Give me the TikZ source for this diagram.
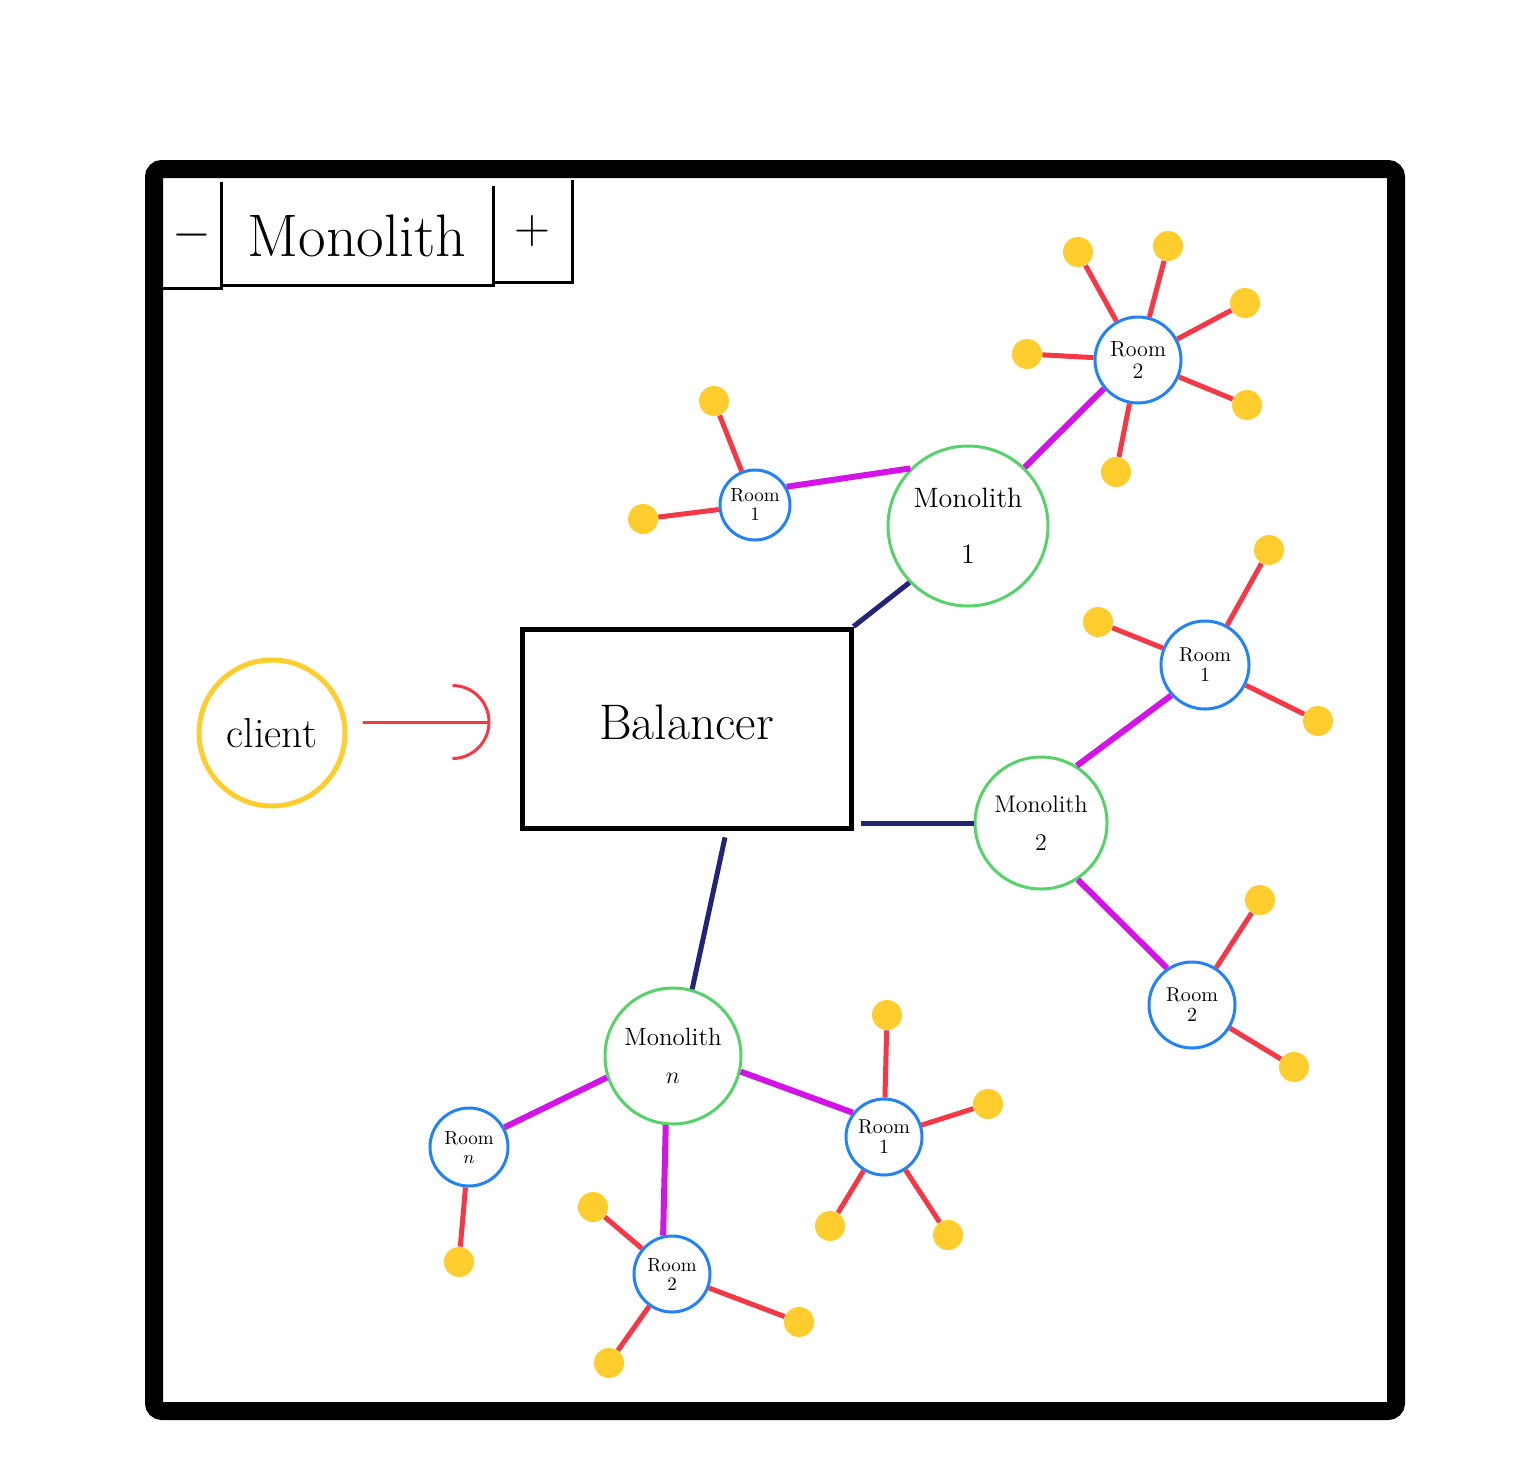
\documentclass[tikz,border=0pt]{standalone}
\usetikzlibrary{arrows.meta}
\definecolor{dotyellow}{RGB}{255,206,46}
\definecolor{redline}{RGB}{245,55,70}
\definecolor{magline}{RGB}{210,20,230}
\definecolor{navyline}{RGB}{35,35,120}
\definecolor{roomblue}{RGB}{35,130,245}
\definecolor{monogreen}{RGB}{85,210,105}

\begin{document}
\begin{tikzpicture}[x=0.5pt,y=-0.5pt,>=Latex,
 mono/.style={draw=monogreen,line width=1.5pt,circle,align=center,inner sep=0pt},
 room/.style={draw=roomblue,line width=1.5pt,circle,align=center,inner sep=0pt,font=\fontsize{10}{10}\selectfont},
 user/.style={circle,fill=dotyellow,minimum size=15pt,inner sep=0pt},
 trunk/.style={draw=navyline,line width=2.5pt},
 branch/.style={draw=magline,line width=3pt},
 spoke/.style={draw=redline,line width=2.5pt},
 cell/.style={line width=1.5pt}]
\useasboundingbox (0,0) rectangle (1536,1462);
\draw[line width=9pt,rounded corners=4pt] (154,169) rectangle (1396,1411);

% title bar
\node[minimum width=29pt,minimum height=53pt,font=\fontsize{30}{30}\selectfont] (minus) at (192,235) {$-$};
\node[minimum width=136pt,minimum height=49.5pt,font=\fontsize{30}{30}\selectfont] (title) at (357,235.5) {Monolith};
\node[minimum width=39.5pt,minimum height=51pt,font=\fontsize{30}{30}\selectfont] (plus) at (532.5,231) {$+$};
\draw[cell] (minus.north east) -- (minus.south east) -- (minus.south west);
\draw[cell] (title.north east) -- (title.south east) -- (title.south west);
\draw[cell] (plus.north east) -- (plus.south east) -- (plus.south west);

% client and balancer
\node[circle,draw=dotyellow,line width=2.5pt,minimum size=73pt,inner sep=0pt,font=\fontsize{21}{21}\selectfont] (client) at (272,733) {client};
\node[draw,line width=2.5pt,minimum width=164.5pt,minimum height=99.5pt,font=\fontsize{25}{25}\selectfont] (bal) at (686.5,728.5) {\raisebox{6.5pt}{Balancer}};
\draw[draw=redline,line width=1.5pt,shorten <=7.5pt,shorten >=14.5pt,-{Arc Barb[length=19pt,width=38pt]}]
 ([yshift=5.5pt]client.east) -- ([yshift=3.25pt]bal.west);

% monoliths
\node[mono,minimum size=80pt,font=\fontsize{14}{16}\selectfont] (m1) at (968,526) {Monolith\\[12pt]1};
\node[mono,minimum size=66pt,font=\fontsize{12}{14}\selectfont] (m2) at (1041,823) {Monolith\\[5pt]2};
\node[mono,minimum size=68pt,font=\fontsize{12.5}{14}\selectfont] (mn) at (673,1056) {Monolith\\[5pt]$n$};
\draw[trunk] (bal.north east) -- (m1.224);
\draw[trunk,shorten <=3.5pt] (bal.east |- m2.west) -- (m2.west);
\draw[trunk,shorten <=3.5pt] ([xshift=20pt]bal.south) -- (mn.74);

% rooms
\node[room,minimum size=35pt,font=\fontsize{9.5}{9.5}\selectfont] (m1r1) at (755,505) {Room\\1};
\node[room,minimum size=43pt,font=\fontsize{11}{11}\selectfont] (m1r2) at (1138,360) {Room\\2};
\node[room,minimum size=44pt] (m2r1) at (1205,665) {Room\\1};
\node[room,minimum size=43pt] (m2r2) at (1192,1005) {Room\\2};
\node[room,minimum size=39pt,font=\fontsize{9.5}{9.5}\selectfont] (mnrn) at (469,1147) {Room\\$n$};
\node[room,minimum size=38pt,font=\fontsize{9.5}{9.5}\selectfont] (mnr2) at (672,1274) {Room\\2};
\node[room,minimum size=38pt] (mnr1) at (884,1137) {Room\\1};
\draw[branch] (m1r1.30) -- (m1.135);
\draw[branch] (m1.46) -- (m1r2.220);
\draw[branch] (m2.58) -- (m2r1.222);
\draw[branch] (m2.303) -- (m2r2.124);
\draw[branch] (mn.198) -- (mnrn.29);
\draw[branch] (mn.264) -- (mnr2.103);
\draw[branch] (mn.347) -- (mnr1.142);

% users
\node[user] (m1r1a) at (714,401) {};
\node[user] (m1r1b) at (643,519) {};
\node[user] (m1r2a) at (1078,252) {};
\node[user] (m1r2b) at (1168,246) {};
\node[user] (m1r2c) at (1245,303) {};
\node[user] (m1r2d) at (1027,354) {};
\node[user] (m1r2e) at (1247,405) {};
\node[user] (m1r2f) at (1116,472) {};
\node[user] (m2r1a) at (1269,550) {};
\node[user] (m2r1b) at (1098,622) {};
\node[user] (m2r1c) at (1318,721) {};
\node[user] (m2r2a) at (1260,900) {};
\node[user] (m2r2b) at (1294,1067) {};
\node[user] (mnrna) at (459,1262) {};
\node[user] (mnr2a) at (593,1207) {};
\node[user] (mnr2b) at (799,1322) {};
\node[user] (mnr2c) at (609,1363) {};
\node[user] (mnr1a) at (887,1015) {};
\node[user] (mnr1b) at (988,1104) {};
\node[user] (mnr1c) at (830,1226) {};
\node[user] (mnr1d) at (948,1235) {};
\draw[spoke] (m1r1) -- (m1r1a);
\draw[spoke] (m1r1) -- (m1r1b);
\draw[spoke] (m1r2) -- (m1r2a);
\draw[spoke] (m1r2) -- (m1r2b);
\draw[spoke] (m1r2) -- (m1r2c);
\draw[spoke] (m1r2) -- (m1r2d);
\draw[spoke] (m1r2) -- (m1r2e);
\draw[spoke] (m1r2) -- (m1r2f);
\draw[spoke] (m2r1) -- (m2r1a);
\draw[spoke] (m2r1) -- (m2r1b);
\draw[spoke] (m2r1) -- (m2r1c);
\draw[spoke] (m2r2) -- (m2r2a);
\draw[spoke] (m2r2) -- (m2r2b);
\draw[spoke] (mnrn) -- (mnrna);
\draw[spoke] (mnr2) -- (mnr2a);
\draw[spoke] (mnr2) -- (mnr2b);
\draw[spoke] (mnr2) -- (mnr2c);
\draw[spoke] (mnr1) -- (mnr1a);
\draw[spoke] (mnr1) -- (mnr1b);
\draw[spoke] (mnr1) -- (mnr1c);
\draw[spoke] (mnr1) -- (mnr1d);
\end{tikzpicture}
\end{document}
